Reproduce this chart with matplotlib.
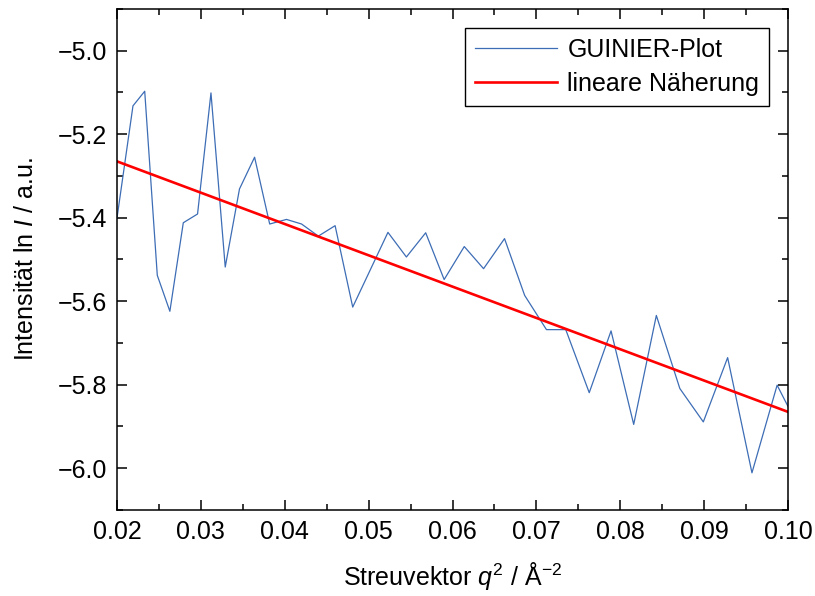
import matplotlib
matplotlib.use("Agg")
import matplotlib.pyplot as plt
from matplotlib.ticker import MultipleLocator, FuncFormatter

# GUINIER data (q^2 in 1/A^2, ln I)
q2 = [0.0200, 0.0219, 0.0233, 0.0248, 0.0263, 0.0279, 0.0296, 0.0312, 0.0329,
      0.0346, 0.0364, 0.0382, 0.0402, 0.0420, 0.0440, 0.0460, 0.0481, 0.0523,
      0.0545, 0.0568, 0.0590, 0.0614, 0.0637, 0.0662, 0.0686, 0.0712, 0.0735,
      0.0763, 0.0789, 0.0816, 0.0843, 0.0871, 0.0899, 0.0928, 0.0957, 0.0987,
      0.1000]
ln_i = [-5.400, -5.132, -5.097, -5.538, -5.624, -5.412, -5.391, -5.101, -5.518,
        -5.331, -5.255, -5.415, -5.404, -5.415, -5.444, -5.419, -5.614, -5.435,
        -5.494, -5.436, -5.548, -5.469, -5.522, -5.450, -5.586, -5.668, -5.668,
        -5.819, -5.671, -5.895, -5.634, -5.809, -5.889, -5.735, -6.011, -5.801,
        -5.852]

# linear fit (lineare Naeherung)
fit_slope = -7.5
fit_intercept = -5.115
fit_x = [0.02, 0.10]

plt.rcParams["font.family"] = ["Liberation Sans", "DejaVu Sans"]
plt.rcParams["mathtext.fontset"] = "custom"
plt.rcParams["mathtext.rm"] = "Liberation Sans"
plt.rcParams["mathtext.it"] = "Liberation Sans:italic"
plt.rcParams["font.size"] = 18

fig = plt.figure(figsize=(8.15, 5.96), dpi=100)
ax = fig.add_axes([0.1436, 0.1443, 0.8233, 0.8406])

ax.plot(q2, ln_i, color="#3d6db5", lw=0.9, label="GUINIER-Plot")
fit_y = [fit_intercept + fit_slope * x for x in fit_x]
ax.plot(fit_x, fit_y, color="#ff0000", lw=1.9, label="lineare Näherung")

ax.set_xlim(0.02, 0.10)
ax.set_ylim(-6.1, -4.9)
ax.xaxis.set_major_locator(MultipleLocator(0.01))
ax.xaxis.set_minor_locator(MultipleLocator(0.005))
ax.yaxis.set_major_locator(MultipleLocator(0.2))
ax.yaxis.set_minor_locator(MultipleLocator(0.1))
ax.xaxis.set_major_formatter(FuncFormatter(lambda v, p: f"{v:.2f}"))
ax.yaxis.set_major_formatter(FuncFormatter(lambda v, p: f"{v:.1f}".replace("-", "\u2212")))

ax.tick_params(which="both", direction="in", top=True, right=True, width=1.1)
ax.tick_params(which="major", length=7, labelsize=18, pad=7)
ax.tick_params(which="minor", length=4)
for sp in ax.spines.values():
    sp.set_linewidth(1.1)

ax.set_xlabel("Streuvektor $q^2$ / Å$^{-2}$", fontsize=18, labelpad=12)
ax.set_ylabel("Intensität ln $I$ / a.u.", fontsize=18, labelpad=14)

leg = ax.legend(loc="upper right", fontsize=18, handlelength=3.3,
                borderaxespad=0.75, fancybox=False, framealpha=1,
                edgecolor="black", borderpad=0.4, labelspacing=0.4,
                handletextpad=0.4)
leg.get_frame().set_linewidth(1.0)

fig.savefig("out.png", dpi=100)
